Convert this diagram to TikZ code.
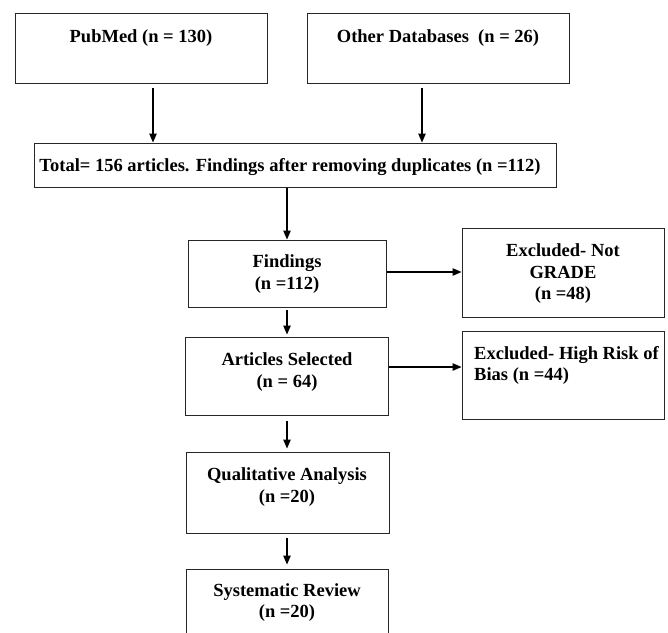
\documentclass[tikz,border=0pt]{standalone}
\usepackage{fontspec}
\setmainfont{Liberation Serif}
\usetikzlibrary{arrows.meta,calc}
\newcommand\fstrut{\rule{0pt}{14pt}}
\begin{document}
\begin{tikzpicture}[x=1pt,y=-1pt,
  box/.style={draw=black!85,line width=1pt,inner sep=0pt,rectangle},
  txt/.style={inner sep=0pt,align=center,anchor=north,font=\fontsize{18.5}{21.5}\selectfont\bfseries},
  txtl/.style={inner sep=0pt,align=left,anchor=north west,font=\fontsize{18.5}{21.5}\selectfont\bfseries},
  arr/.style={draw=black,line width=1.1pt,-{Triangle[length=9pt,width=7.5pt]}}]
\useasboundingbox (0,0) rectangle (668,632);
\clip (0,0) rectangle (668,632);
% boxes
\node[box,minimum width=252pt,minimum height=70pt] (pub) at (141,48) {};
\node[box,minimum width=262pt,minimum height=70pt] (oth) at (438,48) {};
\node[box,minimum width=522pt,minimum height=44pt] (tot) at (295,165) {};
\node[box,minimum width=198pt,minimum height=67pt] (fin) at (287,273.5) {};
\node[box,minimum width=202pt,minimum height=89pt] (ex1) at (563,272.5) {};
\node[box,minimum width=203pt,minimum height=78pt] (art) at (286.5,376) {};
\node[box,minimum width=202pt,minimum height=88pt] (ex2) at (563,375) {};
\node[box,minimum width=203pt,minimum height=81pt] (qual) at (287.5,492.5) {};
\node[box,minimum width=202pt,minimum height=90pt] (sys) at (287,614) {};
% texts
\node[txt] (pubT) at (141,28.5) {\fstrut PubMed (n = 130)};
\node[txt] (othT) at (438,28.5) {\fstrut Other Databases\ \ (n = 26)};
\node[txt] (totT) at (290,157) {\fstrut Total= 156 articles. Findings after removing duplicates (n =112)};
\node[txt] (finT) at (287,253.7) {\fstrut Findings\\(n =112)};
\node[txt] (ex1T) at (563,242.7) {\fstrut Excluded- Not\\GRADE\\(n =48)};
\node[txt] (artT) at (287,351.7) {\fstrut Articles Selected\\(n = 64)};
\node[txtl] (ex2T) at (474,345) {\fstrut Excluded- High Risk of\\Bias (n =44)};
\node[txt] (qualT) at (287,466.7) {\fstrut Qualitative Analysis\\(n =20)};
\node[txt] (sysT) at (287,582) {\fstrut Systematic Review\\(n =20)};
% connectors
\coordinate (c1) at (153,0);
\coordinate (c2) at (422,0);
\coordinate (c3) at (287,0);
\coordinate (r1) at (0,272);
\coordinate (r2) at (0,367);
\draw[arr,shorten <=4pt] (pub.south -| c1) -- (tot.north -| c1);
\draw[arr,shorten <=4pt] (oth.south -| c2) -- (tot.north -| c2);
\draw[arr] (tot.south -| c3) -- (fin.north -| c3);
\draw[arr,shorten <=2pt,shorten >=2pt] (fin.south -| c3) -- (art.north -| c3);
\draw[arr,shorten <=5pt,shorten >=3pt] (art.south -| c3) -- (qual.north -| c3);
\draw[arr,shorten <=4pt,shorten >=4pt] (qual.south -| c3) -- (sys.north -| c3);
\draw[arr] (fin.east |- r1) -- (ex1.west |- r1);
\draw[arr] (art.east |- r2) -- (ex2.west |- r2);
\end{tikzpicture}
\end{document}
